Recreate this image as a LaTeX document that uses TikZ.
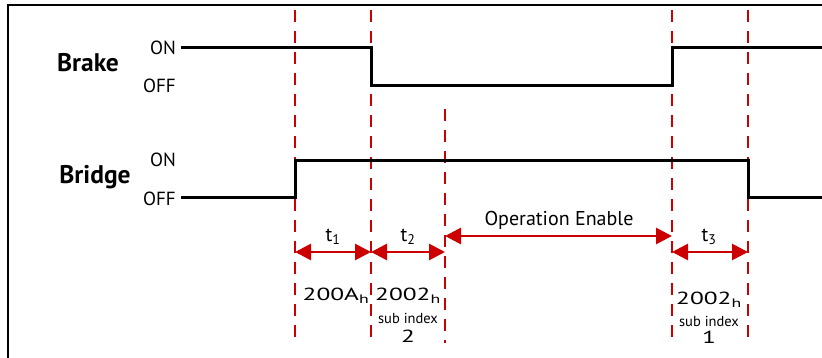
\documentclass[tikz,border=0pt]{standalone}
\usepackage{fontspec}
\setmainfont{PT Sans}
\newfontfamily\hexfont[FakeStretch=1.45]{PT Sans}
\usetikzlibrary{arrows.meta}
\definecolor{dred}{RGB}{204,0,0}
\begin{document}
\begin{tikzpicture}[x=1pt,y=-1pt,
  frameline/.style={line width=2.5pt},
  signal/.style={line width=3pt, line join=miter},
  marker/.style={dred, line width=2pt, dash pattern=on 12pt off 9pt},
  span/.style={dred, line width=2.8pt, {Triangle[length=16pt,width=16pt]}-{Triangle[length=16pt,width=16pt]}},
  title/.style={inner sep=0pt, font=\bfseries\fontsize{25.5}{27}\selectfont},
  level/.style={inner sep=0pt, anchor=east, font=\fontsize{19}{21}\selectfont},
  tlbl/.style={inner sep=0pt, font=\fontsize{20}{22}\selectfont},
  hexlbl/.style={inner sep=0pt, font=\hexfont\fontsize{17.5}{19}\selectfont},
  small/.style={inner sep=0pt, font=\fontsize{14.5}{16}\selectfont}
]
\useasboundingbox (0,0) rectangle (822,358);
% frame
\coordinate (fa) at (8,358);
\coordinate (fb) at (8,5);
\coordinate (fc) at (822,5);
\draw[frameline] (fa) -- (fb) -- (fc);

% titles and levels
\node[title] (brake) at (88,63) {Brake};
\node[title] (bridge) at (95,177) {Bridge};
\node[level] (bron) at (176,48) {ON};
\node[level] (broff) at (176,86) {OFF};
\node[level] (bgon) at (176,160) {ON};
\node[level] (bgoff) at (176,199) {OFF};

% dashed markers
\coordinate (m1t) at (295,10);  \coordinate (m1b) at (295,343);
\coordinate (m2t) at (371,10);  \coordinate (m2b) at (371,343);
\coordinate (m3t) at (445,109); \coordinate (m3b) at (445,343);
\coordinate (m4t) at (672,10);  \coordinate (m4b) at (672,343);
\coordinate (m5t) at (748,10);  \coordinate (m5b) at (748,343);
\draw[marker] (m1t) -- (m1b);
\draw[marker] (m2t) -- (m2b);
\draw[marker] (m3t) -- (m3b);
\draw[marker] (m4t) -- (m4b);
\draw[marker] (m5t) -- (m5b);

% brake signal
\coordinate (b0) at (181,48);
\coordinate (b1) at (371,48);
\coordinate (b2) at (371,86);
\coordinate (b3) at (672,86);
\coordinate (b4) at (672,48);
\coordinate (b5) at (822,48);
\draw[signal] (b0) -- (b1) -- (b2) -- (b3) -- (b4) -- (b5);

% bridge signal
\coordinate (g0) at (181,198);
\coordinate (g1) at (295,198);
\coordinate (g2) at (295,161);
\coordinate (g3) at (748,161);
\coordinate (g4) at (748,198);
\coordinate (g5) at (822,198);
\draw[signal] (g0) -- (g1) -- (g2) -- (g3) -- (g4) -- (g5);

% spans
\coordinate (s1a) at (295,252); \coordinate (s1b) at (371,252);
\coordinate (s2a) at (371,252); \coordinate (s2b) at (445,252);
\coordinate (s3a) at (445,236); \coordinate (s3b) at (672,236);
\coordinate (s4a) at (672,252); \coordinate (s4b) at (748,252);
\draw[span] (s1a) -- (s1b);
\draw[span] (s2a) -- (s2b);
\draw[span] (s3a) -- (s3b);
\draw[span] (s4a) -- (s4b);

\node[tlbl] (t1) at (333,237) {t\textsubscript{1}};
\node[tlbl] (t2) at (408,237) {t\textsubscript{2}};
\node[tlbl] (t3) at (709,237) {t\textsubscript{3}};
\node[tlbl] (op) at (559,220) {Operation Enable};

\node[hexlbl] (h1) at (336,296) {200A\textsubscript{h}};
\node[hexlbl] (h2) at (408,296) {2002\textsubscript{h}};
\node[small] (s2) at (408,318) {sub index};
\node[hexlbl] (n2) at (408,336) {2};
\node[hexlbl] (h3) at (709,300) {2002\textsubscript{h}};
\node[small] (s3) at (709,321) {sub index};
\node[hexlbl] (n3) at (709,337) {1};
\end{tikzpicture}
\end{document}
